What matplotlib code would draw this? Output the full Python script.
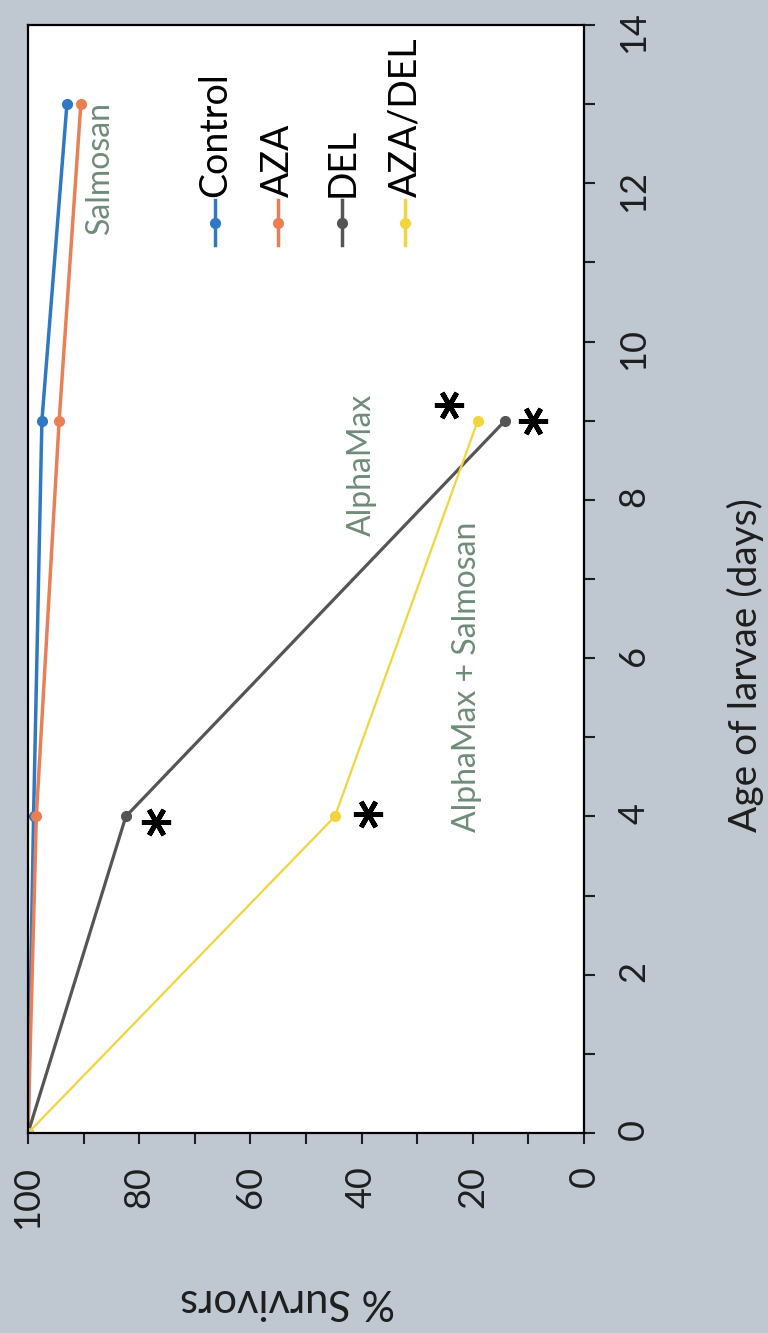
import numpy as np
import matplotlib.pyplot as plt

# survival data (%) per treatment
days = [0, 4, 9, 13]
control = [100, 99, 97.5, 93]
aza = [100, 98.5, 94.4, 90.5]
dele = [100, 82.4, 14.2]
aza_del = [100, 44.8, 19.1]
del_days = [0, 4, 9]

labels = ['Control', 'AZA', 'DEL', 'AZA/DEL']
colors = ['#2f78c4', '#ea7f56', '#555555', '#f3d43c']

# annotations: (text, survival, day)
notes = [('Salmosan', 87, 12.2),
         ('AlphaMax', 39.9, 8.44),
         ('AlphaMax + Salmosan', 21, 5.76)]
# significance stars: survival, day
star_s = [77.0, 38.8, 24.3, 9.2]
star_d = [3.93, 4.03, 9.2, 9.0]

plt.rcParams['font.family'] = ['Lato', 'DejaVu Sans']

fig = plt.figure(figsize=(7.68, 13.33), dpi=100)
fig.patch.set_facecolor('#bfc7d0')
ax = fig.add_axes([28/768, 200/1333, 556/768, 1108/1333])
ax.set_facecolor('white')

# chart is drawn turned on its side: survival runs horizontally, days vertically
ax.plot(control, days, '-o', color=colors[0], lw=2.5, ms=7)
ax.plot(aza, days, '-o', color=colors[1], lw=2.5, ms=7)
ax.plot(dele, del_days, '-o', color=colors[2], lw=2.3, ms=7)
ax.plot(aza_del, del_days, '-o', color=colors[3], lw=1.6, ms=7)

ax.plot(star_s, star_d, ls='none', marker=(6, 2, 90), ms=21, mew=3.5,
        color='black')

ax.set_xlim(100, 0)
ax.set_ylim(0, 14)

ax.set_xticks(np.arange(0, 101, 10))
ax.set_xticklabels([str(v) if v % 20 == 0 else '' for v in range(0, 101, 10)])
ax.set_yticks(np.arange(0, 15, 1))
ax.set_yticklabels([str(v) if v % 2 == 0 else '' for v in range(0, 15)])
ax.yaxis.tick_right()

ax.tick_params(axis='x', direction='out', length=8, width=1.5, labelsize=26,
               labelrotation=90, pad=16, colors='#1e1e1e')
ax.tick_params(axis='y', direction='out', length=8, width=1.5, labelsize=26,
               labelrotation=90, pad=16, colors='#1e1e1e')
for sp in ax.spines.values():
    sp.set_linewidth(1.6)
    sp.set_color('black')

for txt, s, d in notes:
    ax.text(s, d, txt, rotation=90, ha='center', va='center',
            fontsize=23, color='#6e8c78')

# legend, laid out sideways by hand
leg_x = [0.336, 0.45, 0.565, 0.678]
for i in range(4):
    ax.plot([leg_x[i], leg_x[i]], [0.801, 0.842], '-', color=colors[i],
            lw=2.5, transform=ax.transAxes)
    ax.plot(leg_x[i], 0.821, 'o', color=colors[i], ms=7, transform=ax.transAxes)
    ax.text(leg_x[i], 0.845, labels[i], rotation=90, ha='center', va='bottom',
            fontsize=27, color='black', transform=ax.transAxes)

fig.text(745/768, 0.501, 'Age of larvae (days)', rotation=90, ha='center',
         va='center', fontsize=28, color='#1e1e1e')
fig.text(288/768, 0.024, '% Survivors', rotation=180, ha='center',
         va='center', fontsize=30, color='#1e1e1e')

fig.savefig('out.png', dpi=100, facecolor=fig.get_facecolor())
